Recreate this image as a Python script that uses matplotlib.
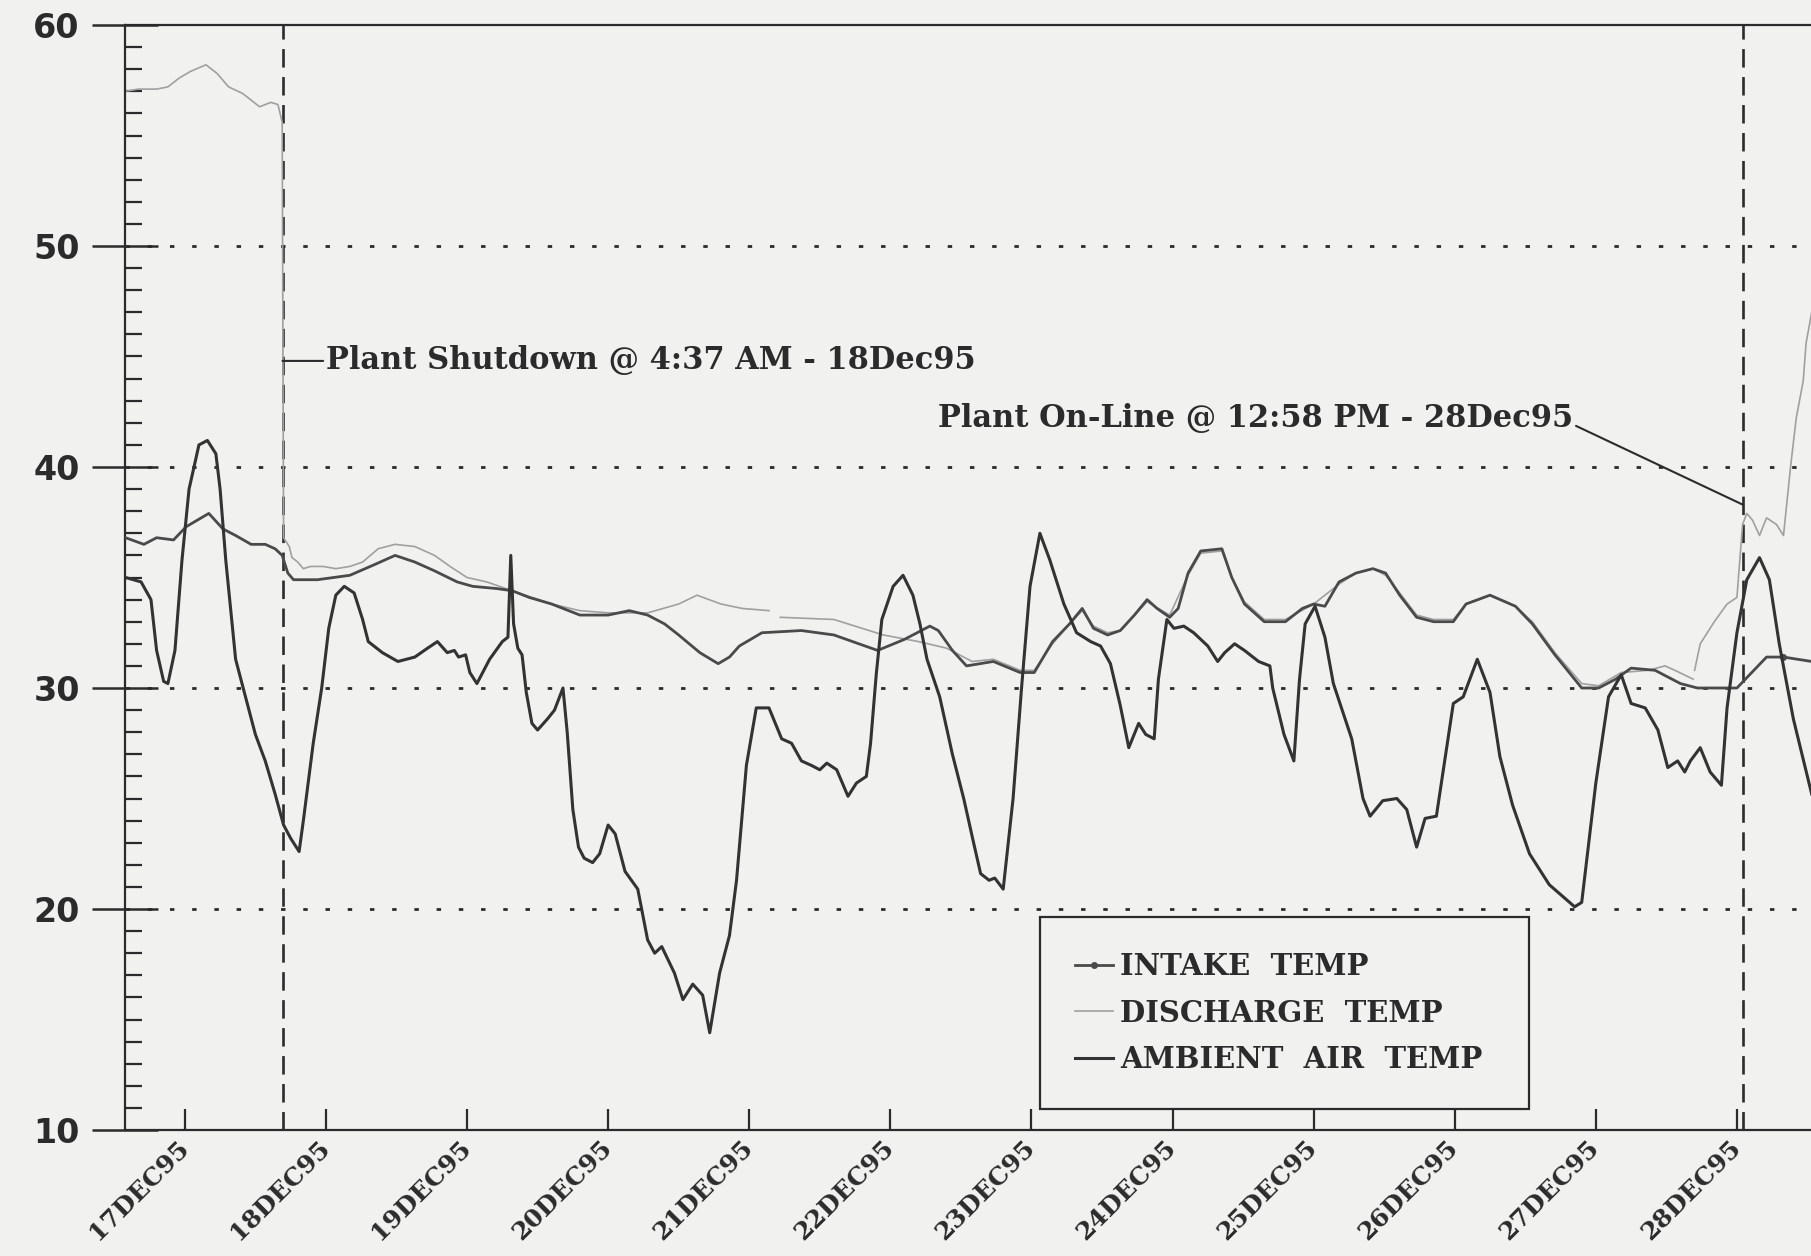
import numpy as np
import matplotlib.pyplot as plt
from matplotlib.ticker import MultipleLocator

# Time axis in days since 17 Dec 1995 00:00; temperatures in deg F
intake_day = [0.08, 0.21, 0.30, 0.42, 0.51, 0.67, 0.77, 0.86, 0.97, 1.07, 1.14, 1.19, 1.23, 1.27,
              1.44, 1.67, 1.85, 1.99, 2.13, 2.27, 2.43, 2.54, 2.71, 2.82, 2.94, 3.10, 3.30, 3.50,
              3.65, 3.78, 3.90, 4.00, 4.15, 4.28, 4.36, 4.43, 4.59, 4.87, 5.10, 5.41, 5.60, 5.78,
              5.84, 5.94, 6.04, 6.23, 6.42, 6.52, 6.65, 6.77, 6.86, 6.94, 7.04, 7.13, 7.23, 7.32,
              7.39, 7.48, 7.54, 7.61, 7.70, 7.85, 7.92, 8.01, 8.15, 8.30, 8.42, 8.50, 8.58, 8.68,
              8.80, 8.92, 9.01, 9.11, 9.23, 9.35, 9.49, 9.58, 9.75, 9.93, 10.05, 10.21, 10.40,
              10.52, 10.64, 10.75, 10.92, 11.10, 11.22, 11.50, 11.59, 11.71, 11.83, 12.03]
intake_temp = [36.8, 36.5, 36.8, 36.7, 37.3, 37.9, 37.2, 36.9, 36.5, 36.5, 36.3, 36.0, 35.2, 34.9,
               34.9, 35.1, 35.6, 36.0, 35.7, 35.3, 34.8, 34.6, 34.5, 34.4, 34.1, 33.8, 33.3, 33.3,
               33.5, 33.3, 32.9, 32.4, 31.6, 31.1, 31.4, 31.9, 32.5, 32.6, 32.4, 31.7, 32.2, 32.8,
               32.6, 31.7, 31.0, 31.2, 30.7, 30.7, 32.1, 32.9, 33.6, 32.7, 32.4, 32.6, 33.3, 34.0,
               33.6, 33.2, 33.6, 35.2, 36.2, 36.3, 35.0, 33.8, 33.0, 33.0, 33.6, 33.8, 33.7, 34.8,
               35.2, 35.4, 35.2, 34.2, 33.2, 33.0, 33.0, 33.8, 34.2, 33.7, 32.9, 31.5, 30.0,
               30.0, 30.4, 30.9, 30.8, 30.2, 30.0, 30.0, 30.6, 31.4, 31.4, 31.2]

discharge_day = [0.08, 0.17, 0.30, 0.38, 0.46, 0.54, 0.65, 0.73, 0.81, 0.91, 1.03, 1.11, 1.16, 1.19,
                 1.20, 1.24, 1.26, 1.30, 1.34, 1.39, 1.48, 1.57, 1.67, 1.76, 1.87, 1.99, 2.13, 2.27,
                 2.38, 2.50, 2.64, 2.82, 2.96, 3.10, 3.30, 3.50, 3.78, 4.00, 4.13, 4.30, 4.45, 4.64,
                 4.68, 4.72, 5.10, 5.45, 5.70, 5.90, 6.08, 6.23, 6.42, 6.52, 6.65, 6.77, 6.86, 6.94,
                 7.04, 7.13, 7.23, 7.32, 7.48, 7.61, 7.70, 7.85, 7.92, 8.01, 8.15, 8.30, 8.50, 8.68,
                 8.80, 8.92, 9.01, 9.11, 9.23, 9.35, 9.49, 9.58, 9.75, 9.93, 10.05, 10.21, 10.40,
                 10.52, 10.68, 10.87, 10.99, 11.06, 11.19, 11.195, 11.20, 11.24, 11.34, 11.43, 11.50,
                 11.54, 11.57, 11.61, 11.66, 11.71, 11.78, 11.83, 11.88, 11.92, 11.97, 11.99, 12.03]
discharge_temp = [57.0, 57.1, 57.1, 57.2, 57.6, 57.9, 58.2, 57.8, 57.2, 56.9, 56.3, 56.5, 56.4, 55.6,
                  36.8, 36.4, 35.9, 35.7, 35.4, 35.5, 35.5, 35.4, 35.5, 35.7, 36.3, 36.5, 36.4, 36.0,
                  35.5, 35.0, 34.8, 34.4, 34.1, 33.8, 33.5, 33.4, 33.4, 33.8, 34.2, 33.8, 33.6, 33.5,
                  np.nan, 33.2, 33.1, 32.4, 32.1, 31.8, 31.2, 31.3, 30.8, 30.8, 32.0, 32.9, 33.5, 32.8,
                  32.5, 32.6, 33.3, 33.9, 33.3, 35.1, 36.1, 36.2, 35.0, 33.9, 33.1, 33.1, 33.8, 34.7,
                  35.2, 35.4, 35.1, 34.3, 33.3, 33.1, 33.1, 33.8, 34.2, 33.7, 33.0, 31.6, 30.2,
                  30.1, 30.7, 30.8, 31.0, 30.8, 30.4, np.nan, 30.8, 32.0, 33.0, 33.8, 34.1,
                  37.4, 37.9, 37.6, 36.9, 37.7, 37.4, 36.9, 40.0, 42.2, 43.9, 45.6, 47.0]

ambient_day = [0.08, 0.19, 0.26, 0.30, 0.35, 0.38, 0.43, 0.48, 0.53, 0.60, 0.66, 0.72, 0.75, 0.79,
               0.86, 0.93, 1.00, 1.07, 1.14, 1.20, 1.25, 1.31, 1.34, 1.41, 1.47, 1.52, 1.57, 1.63,
               1.70, 1.76, 1.80, 1.90, 2.01, 2.13, 2.22, 2.29, 2.36, 2.41, 2.44, 2.49, 2.52, 2.57,
               2.66, 2.75, 2.79, 2.81, 2.83, 2.86, 2.89, 2.92, 2.96, 3.00, 3.07, 3.12, 3.18, 3.21,
               3.25, 3.29, 3.33, 3.39, 3.44, 3.50, 3.55, 3.62, 3.71, 3.78, 3.83, 3.88, 3.97, 4.03,
               4.10, 4.17, 4.22, 4.29, 4.36, 4.41, 4.48, 4.55, 4.64, 4.73, 4.80, 4.87, 4.94, 5.00,
               5.05, 5.12, 5.20, 5.26, 5.33, 5.36, 5.40, 5.44, 5.52, 5.59, 5.66, 5.71, 5.76, 5.85,
               5.94, 6.02, 6.09, 6.14, 6.20, 6.24, 6.30, 6.37, 6.43, 6.49, 6.56, 6.63, 6.73, 6.82,
               6.92, 6.99, 7.06, 7.13, 7.19, 7.26, 7.31, 7.37, 7.40, 7.46, 7.51, 7.58, 7.65, 7.75,
               7.82, 7.87, 7.94, 8.01, 8.11, 8.19, 8.21, 8.29, 8.36, 8.40, 8.44, 8.51, 8.58, 8.64,
               8.77, 8.85, 8.90, 8.99, 9.09, 9.16, 9.23, 9.29, 9.37, 9.49, 9.56, 9.66, 9.75, 9.82,
               9.91, 10.03, 10.17, 10.35, 10.40, 10.50, 10.59, 10.68, 10.75, 10.85, 10.94, 11.01,
               11.08, 11.13, 11.17, 11.24, 11.31, 11.39, 11.43, 11.50, 11.57, 11.66, 11.73, 11.80,
               11.90, 12.03]
ambient_temp = [35.0, 34.8, 34.0, 31.7, 30.3, 30.2, 31.7, 35.8, 39.0, 41.0, 41.2, 40.6, 39.0, 35.8,
                31.3, 29.6, 27.9, 26.7, 25.2, 23.8, 23.2, 22.6, 24.0, 27.5, 30.0, 32.7, 34.2, 34.6,
                34.3, 33.1, 32.1, 31.6, 31.2, 31.4, 31.8, 32.1, 31.6, 31.7, 31.4, 31.5, 30.7, 30.2,
                31.3, 32.1, 32.3, 36.0, 32.9, 31.8, 31.5, 29.8, 28.4, 28.1, 28.6, 29.0, 30.0, 28.0,
                24.5, 22.8, 22.3, 22.1, 22.5, 23.8, 23.4, 21.7, 20.9, 18.6, 18.0, 18.3, 17.1, 15.9,
                16.6, 16.1, 14.4, 17.1, 18.8, 21.3, 26.5, 29.1, 29.1, 27.7, 27.5, 26.7, 26.5, 26.3,
                26.6, 26.3, 25.1, 25.7, 26.0, 27.5, 30.6, 33.1, 34.6, 35.1, 34.2, 32.9, 31.3, 29.6,
                27.0, 25.0, 23.0, 21.6, 21.3, 21.4, 20.9, 25.0, 30.0, 34.6, 37.0, 35.8, 33.8, 32.5,
                32.1, 31.9, 31.1, 29.2, 27.3, 28.4, 27.9, 27.7, 30.4, 33.1, 32.7, 32.8, 32.5, 31.9,
                31.2, 31.6, 32.0, 31.7, 31.2, 31.0, 30.0, 27.9, 26.7, 30.4, 32.9, 33.7, 32.3, 30.2,
                27.7, 25.0, 24.2, 24.9, 25.0, 24.5, 22.8, 24.1, 24.2, 29.3, 29.6, 31.3, 29.8, 26.9,
                24.7, 22.5, 21.1, 20.1, 20.3, 25.7, 29.6, 30.6, 29.3, 29.1, 28.1, 26.4,
                26.7, 26.2, 26.7, 27.3, 26.2, 25.6, 29.1, 32.5, 34.9, 35.9, 34.9, 32.0,
                28.6, 25.2]

tick_days = [0.5 + i for i in range(12)]
tick_labels = ['%dDEC95' % d for d in range(17, 29)]

shutdown_day = 1 + (4 + 37 / 60) / 24     # 18Dec95 04:37
online_day = 11 + (12 + 58 / 60) / 24     # 28Dec95 12:58

paper = '#f1f1ef'
ink = '#2b2b2b'
serif = 'DejaVu Serif'

fig = plt.figure(figsize=(18.11, 12.56), dpi=100, facecolor=paper)
ax = fig.add_axes([125 / 1811, 1 - 1130 / 1256, 1 - 125 / 1811, 1105 / 1256])
ax.set_facecolor(paper)

# grid at every 10 degrees, drawn as sparse dots
for y in (20, 30, 40, 50):
    ax.axhline(y, color=ink, lw=2.0, ls=(0, (1.6, 6.4)), zorder=1)

# event markers
for xd in (shutdown_day, online_day):
    ax.axvline(xd, color=ink, lw=1.9, ls=(0, (7, 3.6)), zorder=1)

ax.plot(intake_day, intake_temp, color='#4a4a4a', lw=2.0, zorder=3,
        marker='o', markersize=4, markevery=[intake_day.index(11.83)],
        label='INTAKE  TEMP')
ax.plot(discharge_day, discharge_temp, color='#a0a0a0', lw=1.2, zorder=2,
        label='DISCHARGE  TEMP')
ax.plot(ambient_day, ambient_temp, color='#333333', lw=2.2, zorder=4,
        label='AMBIENT  AIR  TEMP')

ax.set_xlim(0.076, 12.025)
ax.set_ylim(10, 60)

ax.set_xticks(tick_days)
ax.set_xticklabels(tick_labels, rotation=45, ha='right', va='center',
                   rotation_mode='anchor', fontfamily=serif, fontweight='bold',
                   fontsize=18, color=ink)
ax.set_yticks([10, 20, 30, 40, 50, 60])
ax.set_yticklabels(['10', '20', '30', '40', '50', '60'], fontfamily='DejaVu Sans',
                   fontweight='bold', fontsize=24, color=ink)
ax.yaxis.set_minor_locator(MultipleLocator(1))

ax.tick_params(axis='x', direction='in', length=15, width=1.6, pad=10, color=ink)
ax.tick_params(axis='y', which='major', direction='inout', length=47, width=1.8, pad=9, color=ink)
ax.tick_params(axis='y', which='minor', direction='in', length=12, width=1.6, color=ink)

for side in ('left', 'bottom', 'top'):
    ax.spines[side].set_color(ink)
    ax.spines[side].set_linewidth(1.6)
ax.spines['right'].set_visible(False)

# event labels
ax.annotate('Plant Shutdown @ 4:37 AM - 18Dec95', xy=(shutdown_day, 44.8),
            xytext=(1.50, 44.8), ha='left', va='center', fontsize=22,
            fontfamily=serif, fontweight='bold', color=ink,
            arrowprops=dict(arrowstyle='-', color=ink, lw=1.5, shrinkA=0, shrinkB=0,
                            relpos=(0, 0.5)))
ax.annotate('Plant On-Line @ 12:58 PM - 28Dec95', xy=(online_day, 38.3),
            xytext=(10.34, 42.2), ha='right', va='center', fontsize=22,
            fontfamily=serif, fontweight='bold', color=ink,
            arrowprops=dict(arrowstyle='-', color=ink, lw=1.5, shrinkA=0, shrinkB=0,
                            relpos=(1, 0.3)))

leg = ax.legend(loc='lower left', bbox_to_anchor=(0.5428, 0.019, 0.29, 0.17),
                mode='expand', frameon=True, fancybox=False, borderpad=1.2,
                labelspacing=0.6, handlelength=1.3, handletextpad=0.25,
                borderaxespad=0, prop=dict(family=serif, weight='bold', size=21))
leg.get_frame().set_edgecolor(ink)
leg.get_frame().set_linewidth(1.6)
leg.get_frame().set_facecolor(paper)
leg.get_frame().set_alpha(1)
for t in leg.get_texts():
    t.set_color(ink)

fig.savefig('out.png', dpi=100, facecolor=paper)
